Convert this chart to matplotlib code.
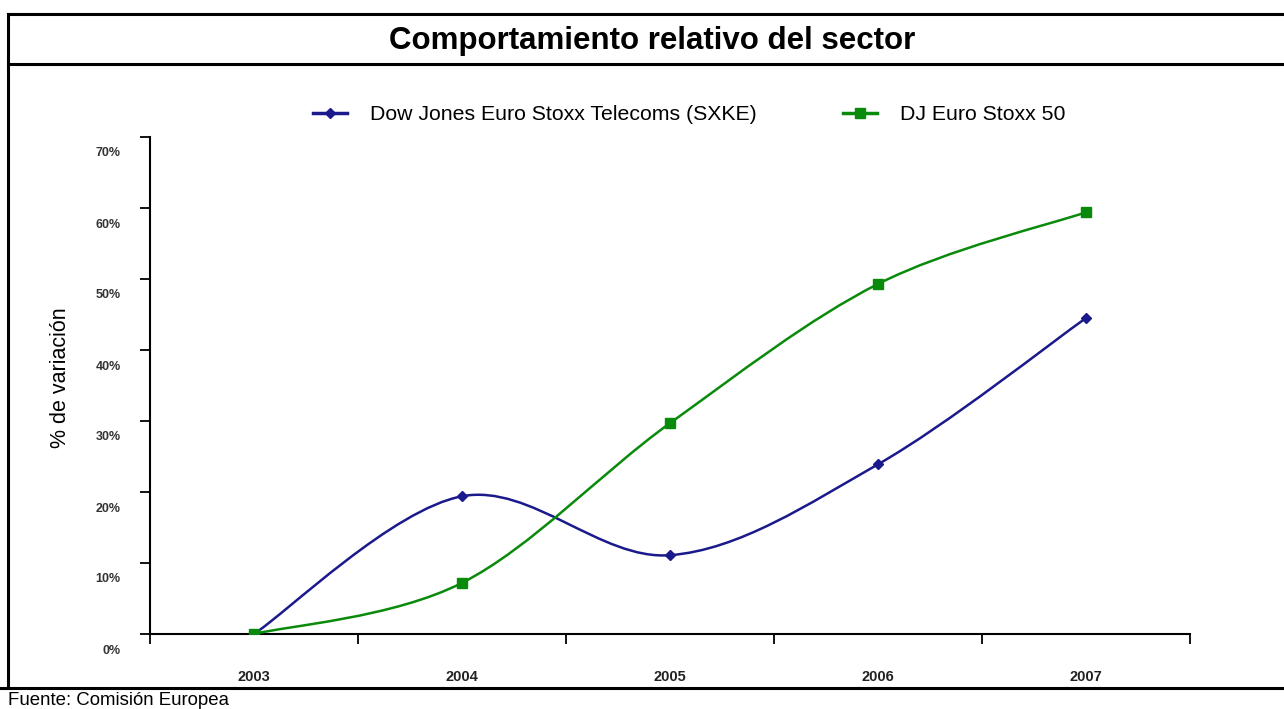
import numpy as np
import matplotlib.pyplot as plt
import matplotlib.transforms as mtransforms
from matplotlib.path import Path
from matplotlib.patches import PathPatch
from matplotlib.lines import Line2D

plt.rcParams['font.family'] = ['Liberation Sans', 'DejaVu Sans']

years = ['2003', '2004', '2005', '2006', '2007']
telecoms = [0.0, 19.4, 11.1, 23.9, 44.5]
stoxx50 = [0.0, 7.2, 29.7, 49.3, 59.4]
yticks = [0, 10, 20, 30, 40, 50, 60, 70]

W, H = 1284, 709
fig = plt.figure(figsize=(W / 100, H / 100), dpi=100)
ax = fig.add_axes([150 / W, (H - 634) / H, (1190 - 150) / W, (634 - 137) / H])


def smooth_path(xs, ys):
    # excel-like smoothed line: cubic bezier through the points
    p = np.column_stack([xs, ys]).astype(float)
    n = len(p)
    verts = [p[0]]
    codes = [Path.MOVETO]
    for i in range(n - 1):
        p0 = p[i - 1] if i > 0 else p[i]
        p3 = p[i + 2] if i + 2 < n else p[i + 1]
        c1 = p[i] + (p[i + 1] - p0) / 6.0
        c2 = p[i + 1] - (p3 - p[i]) / 6.0
        verts += [c1, c2, p[i + 1]]
        codes += [Path.CURVE4] * 3
    return Path(verts, codes)


x = np.arange(len(years))
blue = '#1a1a8c'
green = '#0a8a0a'

ax.add_patch(PathPatch(smooth_path(x, telecoms), fill=False, edgecolor=blue, lw=1.8, zorder=3))
ax.add_patch(PathPatch(smooth_path(x, stoxx50), fill=False, edgecolor=green, lw=1.8, zorder=3))
ax.plot(x, telecoms, ls='none', marker='D', ms=5, color=blue, zorder=4)
ax.plot(x, stoxx50, ls='none', marker='s', ms=7, color=green, zorder=4)

ax.set_xlim(-0.5, len(years) - 0.5)
ax.set_ylim(0, 70)
ax.set_xticks(np.arange(len(years) + 1) - 0.5)
ax.set_xticklabels([])
ax.set_xticks(x, minor=True)
ax.set_xticklabels(years, minor=True, fontsize=10.5, fontweight='bold', color='#222222')
ax.tick_params(axis='x', which='major', direction='out', length=7, width=1.3)
ax.tick_params(axis='x', which='minor', length=0, pad=26)
ax.set_yticks(yticks)
ax.set_yticklabels(['%d%%' % v for v in yticks], fontsize=9, fontweight='bold', color='#333333')
ax.tick_params(axis='y', direction='out', length=7, width=1.3, pad=14)
offset = mtransforms.ScaledTranslation(0, -15 / 100, fig.dpi_scale_trans)
for lab in ax.get_yticklabels():
    lab.set_transform(lab.get_transform() + offset)

for s in ['top', 'right']:
    ax.spines[s].set_visible(False)
for s in ['left', 'bottom']:
    ax.spines[s].set_linewidth(1.5)
ax.patch.set_alpha(0)

fig.text(60 / W, 1 - 378 / H, '% de variación', rotation=90, fontsize=15.5,
         ha='center', va='center')

# frame and title
lk = dict(color='black', lw=2.2, transform=fig.transFigure)
fig.add_artist(Line2D([8 / W, 1], [1 - 14 / H, 1 - 14 / H], **lk))
fig.add_artist(Line2D([8 / W, 1], [1 - 64 / H, 1 - 64 / H], **lk))
fig.add_artist(Line2D([8 / W, 8 / W], [1 - 14 / H, 1 - 688 / H], **lk))
fig.add_artist(Line2D([0, 1], [1 - 688 / H, 1 - 688 / H], **lk))
fig.text(652 / W, 1 - 41 / H, 'Comportamiento relativo del sector', fontsize=22.5,
         fontweight='bold', ha='center', va='center')
fig.text(8 / W, 1 - 692 / H, 'Fuente: Comisión Europea', fontsize=13.4, ha='left', va='top')

handles = [Line2D([], [], color=blue, lw=2.5, marker='D', ms=5),
           Line2D([], [], color=green, lw=2.5, marker='s', ms=7)]
fig.legend(handles, ['Dow Jones Euro Stoxx Telecoms (SXKE)', 'DJ Euro Stoxx 50'],
           loc='center left', bbox_to_anchor=(302 / W, 1 - 115 / H), ncol=2,
           frameon=False, fontsize=15.3, borderpad=0, handlelength=1.6,
           handletextpad=1.08, columnspacing=4.1)

fig.savefig('out.png', dpi=100)
